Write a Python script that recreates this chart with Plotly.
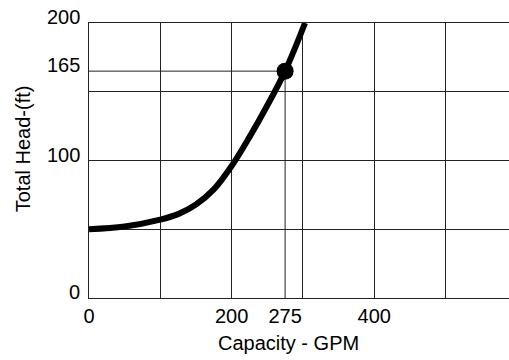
import plotly.graph_objects as go

# pump curve
capacity = [0, 50, 100, 125, 150, 175, 200, 225, 250, 275, 303]
head = [50, 52, 57, 61, 68, 79, 96, 117, 140, 165, 200]

# operating point
op_gpm = [275]
op_head = [165]

x_ticks = [0, 200, 275, 400]
y_ticks = [0, 100, 165, 200]
x_grid = [100, 200, 300, 400, 500]
y_grid = [50, 100, 150, 200]

font = dict(family="Liberation Sans, Arial, sans-serif", size=20, color="black")
gridc = "#222"

fig = go.Figure()
fig.add_trace(go.Scatter(x=capacity, y=head, mode="lines",
                         line=dict(color="black", width=6, shape="spline", smoothing=1.0),
                         hoverinfo="skip"))
fig.add_trace(go.Scatter(x=op_gpm, y=op_head, mode="markers",
                         marker=dict(color="black", size=17), hoverinfo="skip"))

# guide lines to the operating point
fig.add_shape(type="line", x0=0, x1=op_gpm[0], y0=op_head[0], y1=op_head[0],
              line=dict(color=gridc, width=1), layer="below")
fig.add_shape(type="line", x0=op_gpm[0], x1=op_gpm[0], y0=0, y1=op_head[0],
              line=dict(color=gridc, width=1), layer="below")

fig.update_xaxes(range=[0, 589], tickvals=x_ticks, showgrid=False, zeroline=False,
                 showline=True, mirror=True, linecolor=gridc, linewidth=1, ticks="",
                 tickfont=font,
                 minor=dict(tickvals=x_grid, showgrid=True, gridcolor=gridc, gridwidth=1))
fig.update_yaxes(range=[0, 200], showticklabels=False, showgrid=False, zeroline=False,
                 showline=True, linecolor=gridc, linewidth=1, ticks="",
                 minor=dict(tickvals=y_grid, showgrid=True, gridcolor=gridc, gridwidth=1))

# y tick labels sit a little above their lines in the original
for v in y_ticks:
    fig.add_annotation(text=str(v), xref="paper", yref="y", x=0, y=v,
                       xanchor="right", yanchor="middle", xshift=-7, yshift=6,
                       showarrow=False, font=font)

fig.add_annotation(text="Capacity - GPM", xref="paper", yref="paper",
                   x=0.476, y=-0.165, xanchor="center", yanchor="middle",
                   showarrow=False, font=font)
fig.add_annotation(text="Total Head-(ft)", xref="paper", yref="paper",
                   x=-0.157, y=0.541, xanchor="center", yanchor="middle",
                   textangle=-90, showarrow=False, font=font)

fig.update_layout(width=509, height=360, showlegend=False, hovermode=False,
                  margin=dict(l=89, r=0, t=23, b=62),
                  paper_bgcolor="white", plot_bgcolor="white")

fig.write_html("out.html", config={"displayModeBar": False},
               post_script="document.body.style.margin='0';document.body.style.overflow='hidden';")
